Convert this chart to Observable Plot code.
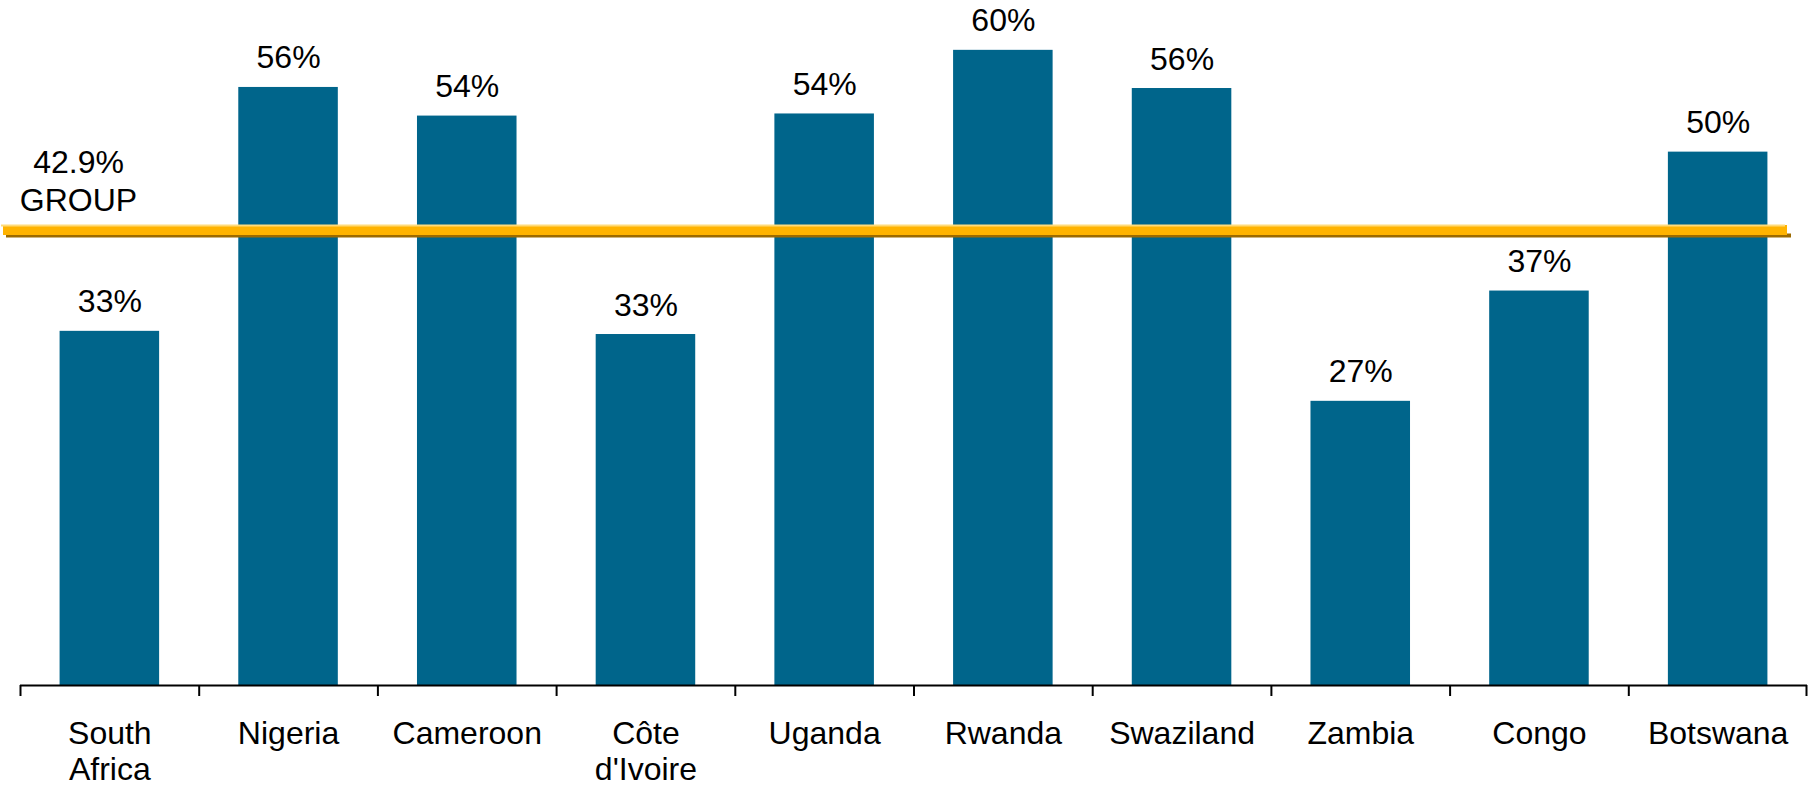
<!DOCTYPE html>
<html>
<head>
<meta charset="utf-8">
<script src="https://cdn.jsdelivr.net/npm/d3@7"></script>
<script src="https://cdn.jsdelivr.net/npm/@observablehq/plot@0.6"></script>
<style>
  html, body { margin: 0; padding: 0; background: #fff; }
  #chart { width: 1809px; height: 790px; }
</style>
</head>
<body>
<div id="chart"></div>
<script>
const categories = ["South Africa", "Nigeria", "Cameroon", "Côte d'Ivoire", "Uganda", "Rwanda", "Swaziland", "Zambia", "Congo", "Botswana"];
const tickLabels = ["South\nAfrica", "Nigeria", "Cameroon", "Côte\nd'Ivoire", "Uganda", "Rwanda", "Swaziland", "Zambia", "Congo", "Botswana"];
const values = [33.4, 56.4, 53.7, 33.1, 53.9, 59.9, 56.3, 26.8, 37.2, 50.3];
const valueLabels = ["33%", "56%", "54%", "33%", "54%", "60%", "56%", "27%", "37%", "50%"];
const groupValue = 42.9;
const groupLabel = "42.9%\nGROUP";

const data = categories.map((c, i) => ({category: c, value: values[i], label: valueLabels[i]}));
const tickLabelOf = new Map(categories.map((c, i) => [c, tickLabels[i]]));

const W = 1809, H = 790, mL = 20, mR = 2;
const step = (W - mL - mR) / categories.length;
const font = "'Liberation Sans', Arial, Helvetica, sans-serif";

const chart = Plot.plot({
  width: W,
  height: H,
  marginLeft: mL,
  marginRight: mR,
  marginTop: 0,
  marginBottom: 105,
  style: {fontFamily: font, fontSize: "32px", color: "#000", background: "#fff"},
  x: {type: "band", domain: categories, paddingInner: 0.443, paddingOuter: 0.2215, round: false, axis: null},
  y: {domain: [0, 64.6], axis: null},
  marks: [
    Plot.barY(data, {x: "category", y: "value", fill: "#00658B"}),
    Plot.text(data, {x: "category", y: "value", text: "label", lineAnchor: "bottom", dy: -19, fontSize: 32, fill: "#000"}),
    // group line: shadow, body, highlight
    Plot.ruleY([groupValue], {dy: 5, stroke: "#9C6A00", strokeWidth: 4, insetLeft: -14, insetRight: 16}),
    Plot.ruleY([groupValue], {dy: -0.5, stroke: "#FFB300", strokeWidth: 10, insetLeft: -17, insetRight: 20}),
    Plot.ruleY([groupValue], {dy: -5, stroke: "#FFDB7A", strokeWidth: 2, insetLeft: -19, insetRight: 22}),
    Plot.text([groupLabel], {text: d => d, y: groupValue, frameAnchor: "left", dx: 58, textAnchor: "middle", lineAnchor: "bottom", lineHeight: 1.19, dy: -20, fontSize: 32, fill: "#000"}),
    // baseline and boundary ticks
    Plot.ruleY([0], {stroke: "#000", strokeWidth: 2}),
    Plot.ruleX(categories, {x: d => d, y1: 0, y2: 0, insetBottom: -11, dx: -step / 2, stroke: "#000", strokeWidth: 2}),
    Plot.ruleX([categories[categories.length - 1]], {x: d => d, y1: 0, y2: 0, insetBottom: -11, dx: step / 2 - 1, stroke: "#000", strokeWidth: 2}),
    Plot.axisX({tickSize: 0, tickPadding: 32, fontSize: 32, lineHeight: 1.15, tickFormat: d => tickLabelOf.get(d), fill: "#000", label: null})
  ]
});
document.getElementById("chart").appendChild(chart);
</script>
</body>
</html>
